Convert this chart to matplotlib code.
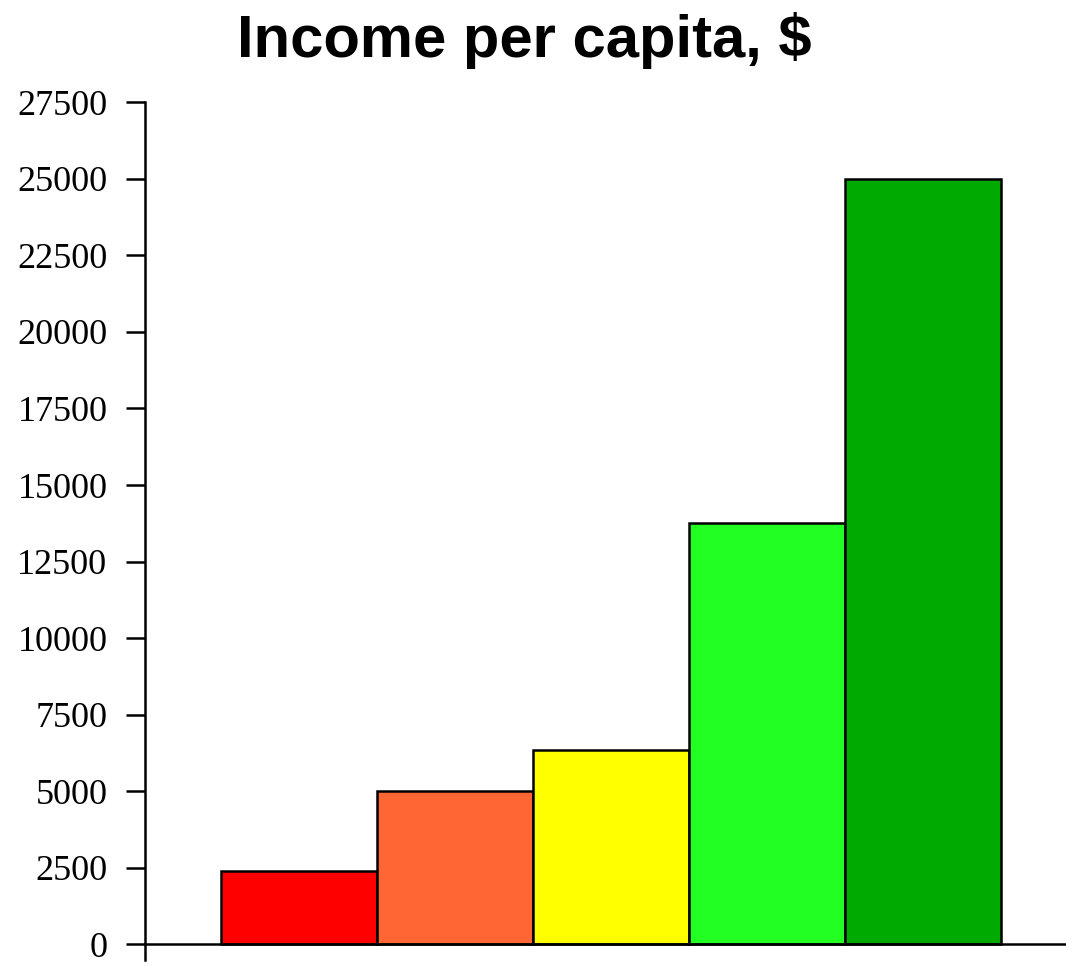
import matplotlib
matplotlib.use('Agg')
import matplotlib.pyplot as plt
import numpy as np

# income per capita, one bar per group
incomes = [2400, 5000, 6350, 13750, 25000]
y_ticks = np.arange(0, 27501, 2500)

bar_colors = ['#ff0000', '#ff6633', '#ffff00', '#22ff22', '#00aa00']

fig = plt.figure(figsize=(10.66, 9.65), dpi=100)
ax = fig.add_axes([0.136, 0.005, 0.864, 0.889])

x = np.arange(len(incomes))
ax.bar(x, incomes, width=1.0, color=bar_colors, edgecolor='black', linewidth=1.8, zorder=2)

ax.set_xlim(-0.99, 4.92)
ax.set_ylim(-520, 27500)
ax.set_yticks(y_ticks)
ax.set_yticklabels([str(v) for v in y_ticks], family='Liberation Serif', fontsize=26)
ax.set_xticks([])

for side in ['top', 'right']:
	ax.spines[side].set_visible(False)
ax.spines['bottom'].set_position(('data', 0))
ax.spines['bottom'].set_linewidth(1.8)
ax.spines['left'].set_linewidth(1.8)
ax.tick_params(axis='y', length=14, width=1.8, pad=13)

fig.text(0.492, 0.941, 'Income per capita, $', ha='center', va='baseline',
	family='Liberation Sans', fontweight='bold', fontsize=43)

fig.savefig('out.png', dpi=100, facecolor='white')
